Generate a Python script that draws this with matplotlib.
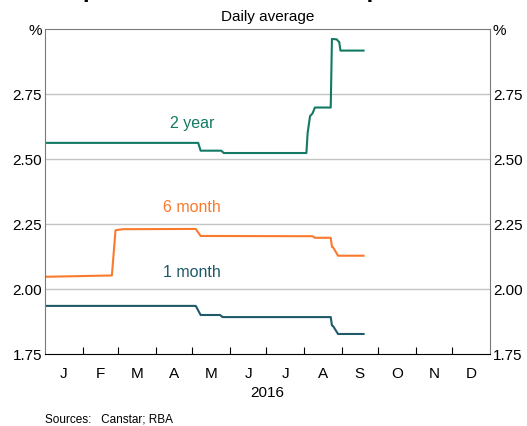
import numpy as np
import matplotlib.pyplot as plt
import pandas as pd

plt.rcParams['font.family'] = ['Liberation Sans', 'DejaVu Sans']

# breakpoints of the daily-average series (date, rate %)
two_year_dates = ['2016-01-01', '2016-05-06', '2016-05-08', '2016-05-25', '2016-05-27',
                  '2016-08-03', '2016-08-04', '2016-08-06', '2016-08-08', '2016-08-10',
                  '2016-08-23', '2016-08-24', '2016-08-28', '2016-08-29', '2016-08-30',
                  '2016-08-31', '2016-09-19']
two_year = [2.562, 2.562, 2.532, 2.532, 2.523,
            2.523, 2.60, 2.665, 2.675, 2.698,
            2.698, 2.962, 2.960, 2.954, 2.950,
            2.917, 2.917]

six_month_dates = ['2016-01-01', '2016-02-25', '2016-02-28', '2016-03-05', '2016-05-04',
                   '2016-05-08', '2016-08-08', '2016-08-10', '2016-08-23', '2016-08-24',
                   '2016-08-25', '2016-08-29', '2016-09-19']
six_month = [2.047, 2.052, 2.226, 2.230, 2.231,
             2.204, 2.203, 2.197, 2.197, 2.162,
             2.160, 2.128, 2.128]

one_month_dates = ['2016-01-01', '2016-05-04', '2016-05-08', '2016-05-24', '2016-05-26',
                   '2016-08-23', '2016-08-24', '2016-08-25', '2016-08-29', '2016-09-19']
one_month = [1.935, 1.935, 1.900, 1.900, 1.892,
             1.892, 1.860, 1.857, 1.827, 1.827]

months = ['J', 'F', 'M', 'A', 'M', 'J', 'J', 'A', 'S', 'O', 'N', 'D']
yticks = [1.75, 2.00, 2.25, 2.50, 2.75, 3.00]
ylabels = ['1.75', '2.00', '2.25', '2.50', '2.75', '%']

c2y = '#127a64'
c6m = '#fa7a2d'
c1m = '#1e5a68'

fig = plt.figure(figsize=(5.27, 4.26), dpi=100)
ax = fig.add_axes([45/527, 1 - 354/426, 445/527, 325/426])

ax.plot(pd.to_datetime(two_year_dates), two_year, color=c2y, lw=1.5)
ax.plot(pd.to_datetime(six_month_dates), six_month, color=c6m, lw=1.5)
ax.plot(pd.to_datetime(one_month_dates), one_month, color=c1m, lw=1.5)

ax.set_yticks(yticks)
ax.set_yticklabels(ylabels, fontsize=11)
ax.tick_params(axis='y', length=0, pad=2, labelright=True, right=False)
for v in yticks[1:-1]:
    ax.axhline(v, color='#c4c4c4', lw=1, zorder=0)

# ticks at month boundaries, labels centred in each month
month_starts = pd.date_range('2016-01-01', periods=13, freq='MS')
mid_months = month_starts[:-1] + (month_starts[1:] - month_starts[:-1]) / 2
ax.set_xticks(month_starts[1:-1])
ax.xaxis.set_major_formatter(plt.NullFormatter())
ax.set_xticks(mid_months, minor=True)
ax.set_xticklabels(months, minor=True, fontsize=11)
ax.tick_params(axis='x', which='major', direction='in', length=5, color='black')
ax.tick_params(axis='x', which='minor', length=0, pad=9)
ax.set_xlabel('2016', fontsize=11, labelpad=4)

ax.set_xlim(pd.Timestamp('2016-01-01'), pd.Timestamp('2017-01-01'))
ax.set_ylim(1.75, 3.0)

for s in ['left', 'right', 'top']:
    ax.spines[s].set_color('#7a7a7a')
ax.spines['bottom'].set_color('black')

lab_x = pd.Timestamp('2016-05-01')
ax.text(lab_x, 2.638, '2 year', color=c2y, fontsize=11.5, ha='center', va='center')
ax.text(lab_x, 2.315, '6 month', color=c6m, fontsize=11.5, ha='center', va='center')
ax.text(lab_x, 2.065, '1 month', color=c1m, fontsize=11.5, ha='center', va='center')

fig.text(268/527, 1 - 17/426, 'Daily average', fontsize=11, ha='center', va='center')
# title is cut off by the top edge in the reference
fig.text(268/527, 1 + 3/426, 'Graph 1: Advertised Term Deposit Rates',
         fontsize=17, fontweight='bold', ha='center', va='baseline')
fig.text(45/527, 1 - 420/426, 'Sources:   Canstar; RBA', fontsize=8.5, ha='left', va='center')

fig.savefig('out.png', dpi=100)
